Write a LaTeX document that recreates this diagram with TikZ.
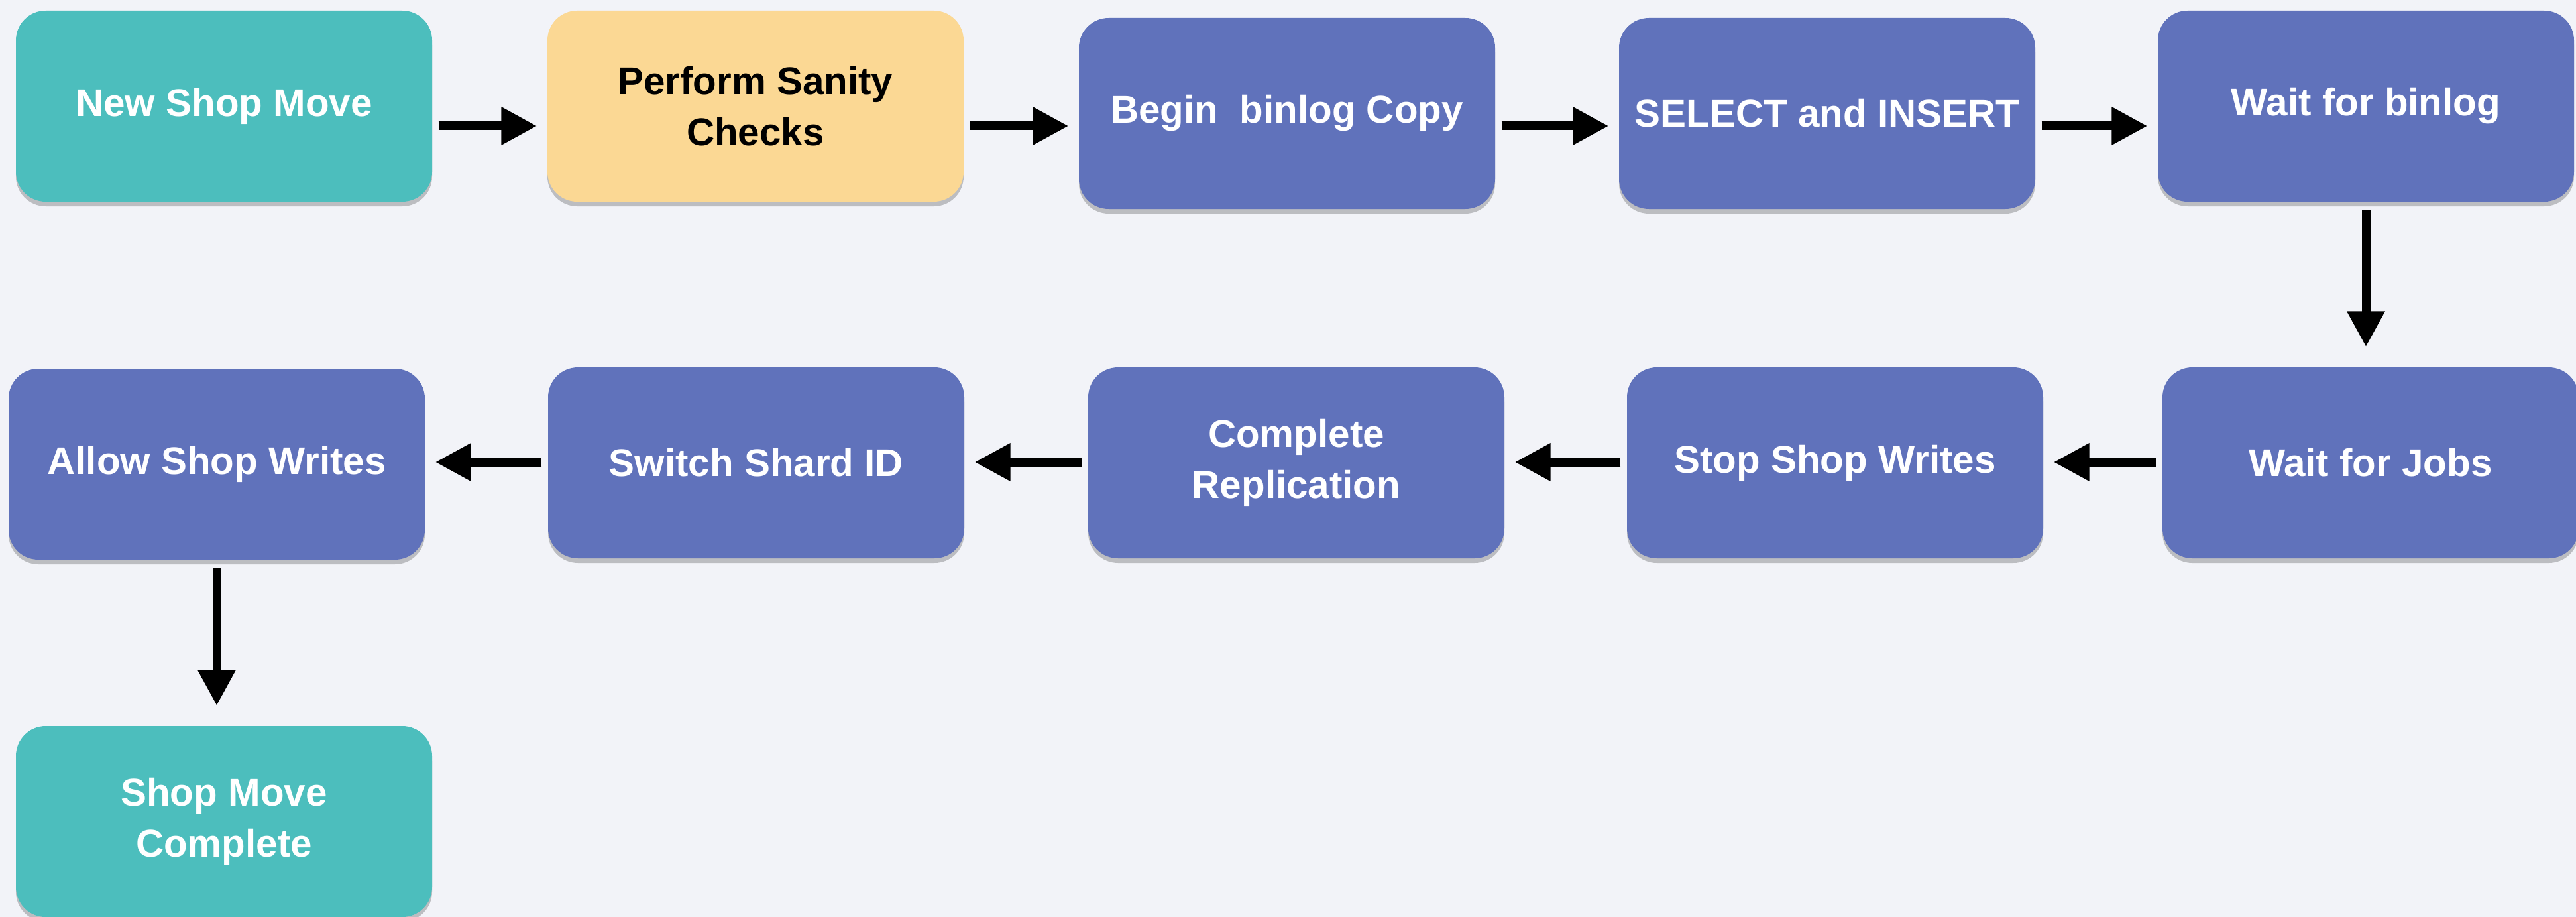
\documentclass[tikz,border=0pt]{standalone}
\usepackage{fontspec}
\setmainfont{Liberation Sans}
\usetikzlibrary{arrows.meta,shadows}
\definecolor{bgc}{HTML}{F2F3F8}
\definecolor{tealc}{HTML}{4CBEBD}
\definecolor{yellowc}{HTML}{FBD894}
\definecolor{bluec}{HTML}{6072BB}
\begin{document}
\begin{tikzpicture}[
  box/.style={rectangle, rounded corners=0.45cm, minimum width=6.28cm, minimum height=2.88cm,
    inner sep=0pt, align=center, text=white,
    font=\bfseries\fontsize{16.6}{22}\selectfont,
    drop shadow={shadow xshift=0pt, shadow yshift=-0.07cm, opacity=0.22, fill=black}},
  tealbox/.style={box, fill=tealc},
  yellowbox/.style={box, fill=yellowc, text=black},
  bluebox/.style={box, fill=bluec},
  arr/.style={line width=0.13cm, -{Triangle[length=0.54cm,width=0.54cm]},
    shorten <=0.09cm, shorten >=0.15cm},
  varr/.style={arr, shorten <=0.12cm, shorten >=0.3cm}
]
\fill[bgc] (0,0) rectangle (38.87,-13.83);
\useasboundingbox (0,0) rectangle (38.87,-13.83);

\coordinate (r1) at (0,-1.9);
\coordinate (r2) at (0,-6.97);

% row 1
\node[tealbox]   (n1) at (3.38,-1.60) {New Shop Move};
\node[yellowbox] (n2) at (11.40,-1.60) {Perform Sanity\\Checks};
\node[bluebox]   (n3) at (19.42,-1.71) {Begin\ \ binlog Copy};
\node[bluebox]   (n4) at (27.57,-1.71) {SELECT and INSERT};
\node[bluebox]   (n5) at (35.70,-1.60) {Wait for binlog};
% row 2
\node[bluebox]   (n6) at (35.77,-6.98) {Wait for Jobs};
\node[bluebox]   (n7) at (27.69,-6.98) {Stop Shop Writes};
\node[bluebox]   (n8) at (19.56,-6.98) {Complete\\Replication};
\node[bluebox]   (n9) at (11.41,-6.98) {Switch Shard ID};
\node[bluebox]   (n10) at (3.27,-7.00) {Allow Shop Writes};
% row 3
\node[tealbox]   (n11) at (3.38,-12.39) {Shop Move\\Complete};

% connectors
\draw[arr] (n1.east |- r1) -- (n2.west |- r1);
\draw[arr] (n2.east |- r1) -- (n3.west |- r1);
\draw[arr] (n3.east |- r1) -- (n4.west |- r1);
\draw[arr] (n4.east |- r1) -- (n5.west |- r1);
\draw[varr] (n5.south) -- (n6.north -| n5.south);
\draw[arr] (n6.west |- r2) -- (n7.east |- r2);
\draw[arr] (n7.west |- r2) -- (n8.east |- r2);
\draw[arr] (n8.west |- r2) -- (n9.east |- r2);
\draw[arr] (n9.west |- r2) -- (n10.east |- r2);
\draw[varr] (n10.south) -- (n11.north -| n10.south);
\end{tikzpicture}
\end{document}
